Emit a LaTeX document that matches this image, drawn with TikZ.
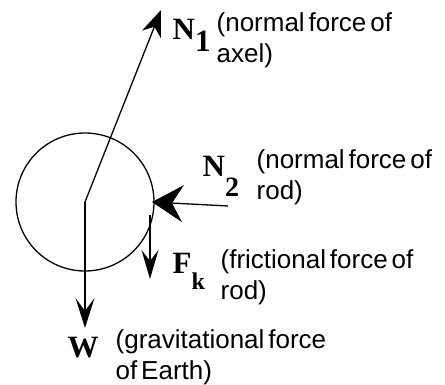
\documentclass[tikz,border=0pt]{standalone}
\usepackage{fontspec}
\setmainfont{Liberation Sans}
\newfontfamily\symfont{Liberation Serif}
\usetikzlibrary{arrows.meta}
\newcommand{\tightspace}{\spaceskip=0.15em plus 0.05em\relax}
\begin{document}
\begin{tikzpicture}[x=1pt,y=-1pt,line width=1.3pt,
  desc/.style={font=\fontsize{26}{31}\selectfont, align=left, inner sep=0pt, anchor=base west},
  sym/.style={font=\fontsize{31}{31}\selectfont\symfont\bfseries, inner sep=0pt, anchor=base west},
  head/.style n args={3}{-{Stealth[length=#1,width=#2,inset=#3]}}]
\useasboundingbox (0,0) rectangle (445,385);
\coordinate (c) at (85,202);
\node[circle, draw, minimum size=138pt, inner sep=0pt] (wheel) at (c) {};
\coordinate (n1tip) at (161,10);
\coordinate (n2tail) at (228,206);
\coordinate (n2tip) at (152,202);
\coordinate (fktail) at (150,215);
\coordinate (fktip) at (150,279);
\coordinate (wtip) at (85,328);
\draw[head={26pt}{20pt}{8pt}] (c) -- (n1tip);
\draw[head={31pt}{37pt}{11pt}] (n2tail) -- (n2tip);
\draw[head={29pt}{17pt}{11pt}] (fktail) -- (fktip);
\draw[head={30pt}{19pt}{13pt}] (c) -- (wtip);
\node[sym] (n1lab) at (172,40) {N\raisebox{-12pt}{1}};
\node[sym] (n2lab) at (202,177) {N\raisebox{-20pt}{\fontsize{28}{28}\selectfont 2}};
\node[sym] (fklab) at (172,273) {F\raisebox{-17pt}{\fontsize{24}{24}\selectfont k}};
\node[sym] (wlab) at (67,357) {W};
\node[desc] (d1) at (216,63) {\tightspace(normal force of\\\tightspace axel)};
\node[desc] (d2) at (256,200) {\tightspace(normal force of\\\tightspace rod)};
\node[desc] (d3) at (220,299) {\tightspace(frictional force of\\\tightspace rod)};
\node[desc] (d4) at (115,379) {\tightspace(gravitational force\\\tightspace of Earth)};
\end{tikzpicture}
\end{document}
